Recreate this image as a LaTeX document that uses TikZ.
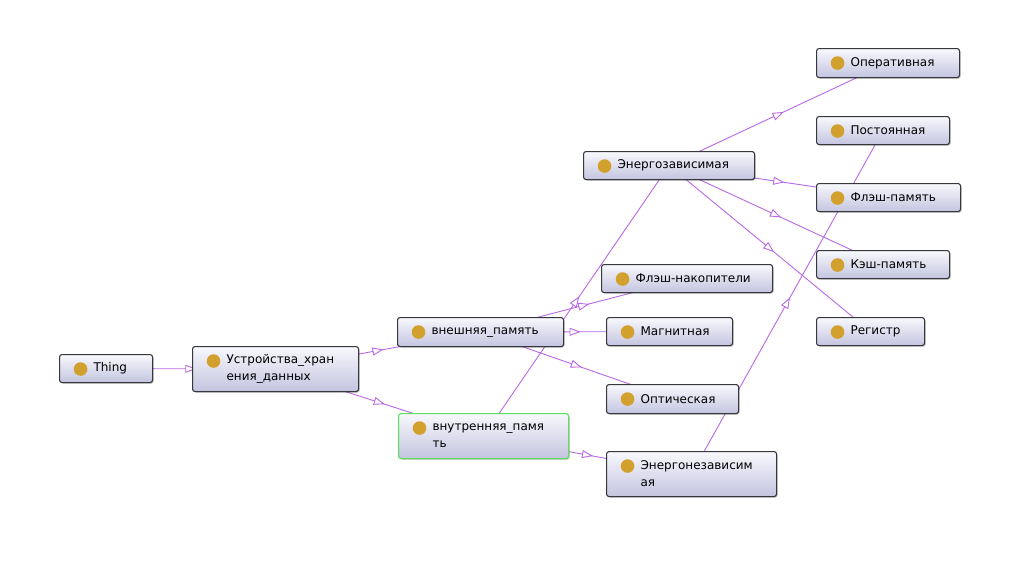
\documentclass[tikz,border=0pt]{standalone}
\usepackage{fontspec}
\setmainfont{DejaVu Sans}
\usetikzlibrary{arrows.meta,decorations.markings,backgrounds,shadows}
\definecolor{edgecol}{RGB}{185,105,228}
\definecolor{dotcol}{RGB}{210,160,45}
\definecolor{boxtop}{RGB}{248,248,253}
\definecolor{boxbot}{RGB}{196,196,224}
\definecolor{boxline}{RGB}{55,55,62}
\definecolor{selgreen}{RGB}{90,225,90}
\tikzset{
  cls/.style={draw=boxline, line width=1.1pt, rounded corners=2.5pt,
    top color=boxtop, bottom color=boxbot, anchor=north west,
    inner xsep=0pt, inner ysep=0pt, align=left,
    font=\fontsize{12}{17}\selectfont,
    drop shadow={shadow xshift=1.2pt, shadow yshift=-1.2pt, fill=black, opacity=0.2},
    execute at begin node={\leftskip=34pt\relax},
    path picture={\fill[dotcol] ([shift={(21pt,-14.5pt)}]path picture bounding box.north west) circle (6.8pt);}},
  isa/.style={draw=edgecol, line width=0.9pt, postaction={decorate},
    decoration={markings, mark=at position 0.5 with {\arrow[xshift=5.5pt]{Triangle[open,fill=white,length=11pt,width=8pt]}}}}
}
\begin{document}
\begin{tikzpicture}[x=1pt,y=-1pt]
\useasboundingbox (0,0) rectangle (1022,574);
\node[cls, text width=93pt, minimum height=28pt] (thing) at (59,354) {Thing};
\node[cls, text width=166pt, minimum height=45pt] (dev) at (192,346) {Устройства\_хран\\ения\_данных};
\node[cls, text width=166pt, minimum height=29pt] (ext) at (397,317) {внешняя\_память};
\node[cls, draw=selgreen, text width=170pt, minimum height=45pt] (int) at (398,413) {внутренняя\_памя\\ть};
\node[cls, text width=171pt, minimum height=28pt] (flashdr) at (601,264) {Флэш-накопители};
\node[cls, text width=126pt, minimum height=28pt] (magn) at (606,317) {Магнитная};
\node[cls, text width=132pt, minimum height=29pt] (opt) at (606,384) {Оптическая};
\node[cls, text width=170pt, minimum height=45pt] (nonvol) at (606,451) {Энергонезависим\\ая};
\node[cls, text width=171pt, minimum height=28pt] (vol) at (583,151) {Энергозависимая};
\node[cls, text width=143pt, minimum height=29pt] (ram) at (816,48) {Оперативная};
\node[cls, text width=133pt, minimum height=28pt] (rom) at (816,116) {Постоянная};
\node[cls, text width=144pt, minimum height=28pt] (flash) at (816,183) {Флэш-память};
\node[cls, text width=133pt, minimum height=28pt] (cache) at (816,250) {Кэш-память};
\node[cls, text width=108pt, minimum height=28pt] (reg) at (816,317) {Регистр};
\begin{pgfonlayer}{background}
\fill[white] (0,0) rectangle (1022,574);
\draw[isa] (thing.center) -- (dev.center);
\draw[isa] (dev.center) -- (ext.center);
\draw[isa] (dev.center) -- (int.center);
\draw[isa] (ext.center) -- (flashdr.center);
\draw[isa] (ext.center) -- (magn.center);
\draw[isa] (ext.center) -- (opt.center);
\draw[isa] (int.center) -- (vol.center);
\draw[isa] (int.center) -- (nonvol.center);
\draw[isa] (vol.center) -- (ram.center);
\draw[isa] (vol.center) -- (flash.center);
\draw[isa] (vol.center) -- (cache.center);
\draw[isa] (vol.center) -- (reg.center);
\draw[isa] (nonvol.center) -- (rom.center);
\end{pgfonlayer}
\end{tikzpicture}
\end{document}
